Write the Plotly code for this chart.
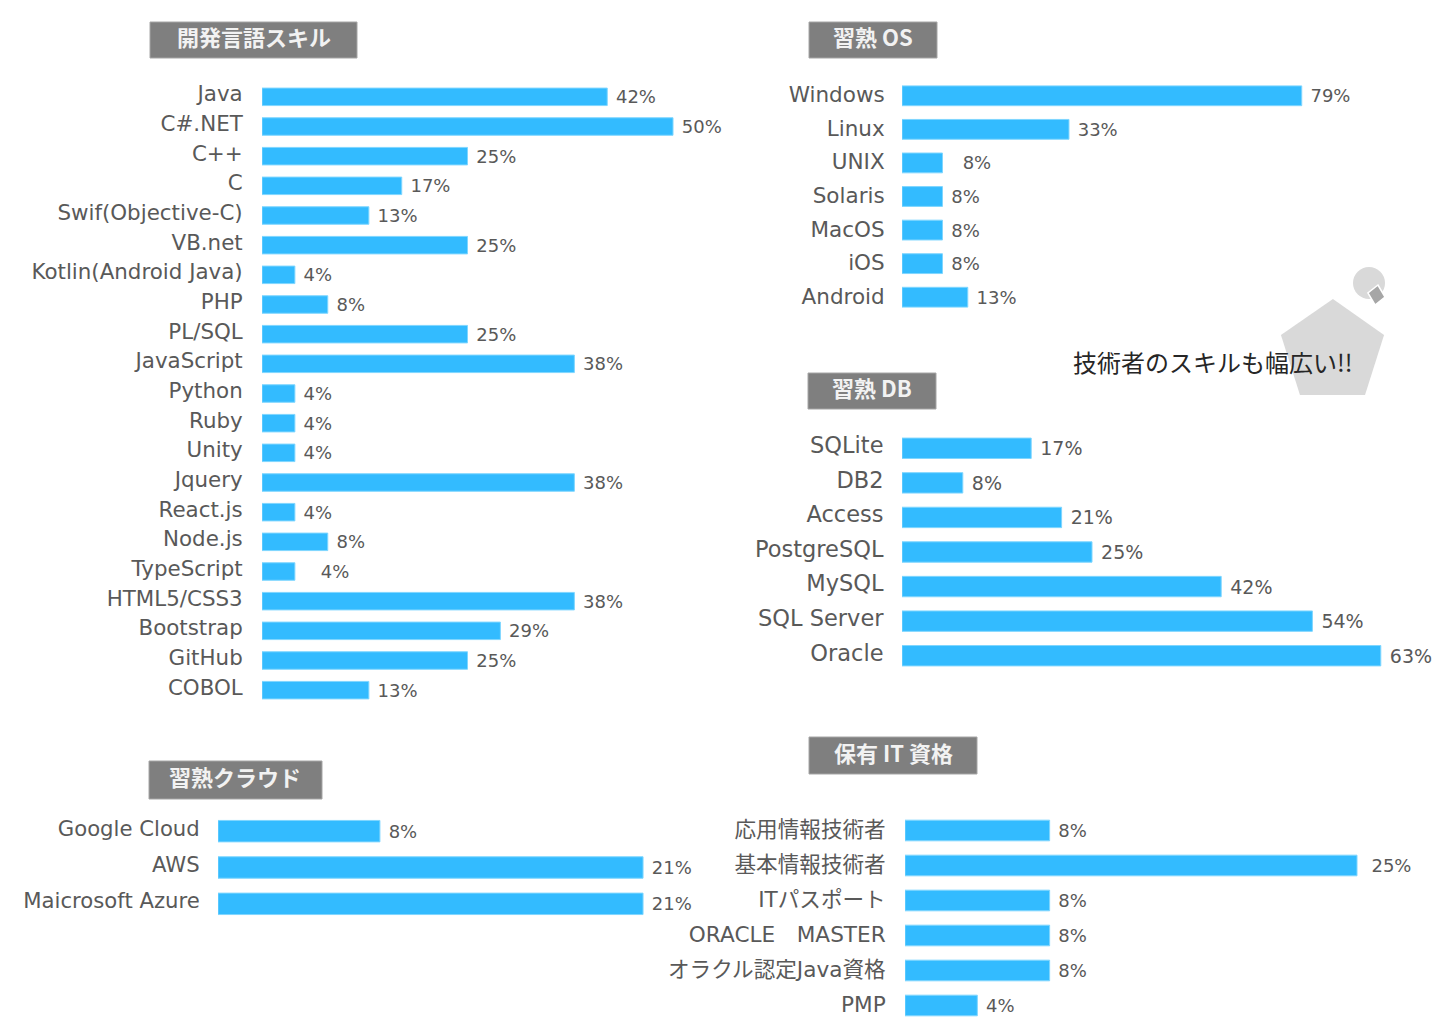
import plotly.graph_objects as go

W, H = 1452, 1036

lang_names = ["Java", "C#.NET", "C++", "C", "Swif(Objective-C)", "VB.net", "Kotlin(Android Java)", "PHP",
              "PL/SQL", "JavaScript", "Python", "Ruby", "Unity", "Jquery", "React.js", "Node.js",
              "TypeScript", "HTML5/CSS3", "Bootstrap", "GitHub", "COBOL"]
lang_vals = [42, 50, 25, 17, 13, 25, 4, 8, 25, 38, 4, 4, 4, 38, 4, 8, 4, 38, 29, 25, 13]

os_names = ["Windows", "Linux", "UNIX", "Solaris", "MacOS", "iOS", "Android"]
os_vals = [79, 33, 8, 8, 8, 8, 13]

db_names = ["SQLite", "DB2", "Access", "PostgreSQL", "MySQL", "SQL Server", "Oracle"]
db_vals = [17, 8, 21, 25, 42, 54, 63]

cloud_names = ["Google Cloud", "AWS", "Maicrosoft Azure"]
cloud_vals = [8, 21, 21]

cert_names = ["応用情報技術者", "基本情報技術者", "ITパスポート", "ORACLE　MASTER", "オラクル認定Java資格", "PMP"]
cert_vals = [8, 25, 8, 8, 8, 4]

# labels that sit further from the bar in the original
label_gap = {"UNIX": 3, "TypeScript": 4, "基本情報技術者": 2}

FONT = "DejaVu Sans, Noto Sans CJK JP"
GREY = "#595959"
BLUE = "#33BBFF"


def fx(x):
    return x / W


def fy(y):
    return 1 - y / H


fig = go.Figure()


def panel(n, names, vals, x0, x1, y0, y1, px_per_pct, size, ticklen, shift, val_size=18):
    suffix = "" if n == 1 else str(n)
    text = []
    for name, v in zip(names, vals):
        text.append("\u00a0" * label_gap.get(name, 1) + f"{v}%")
    fig.add_trace(go.Bar(
        x=vals, y=names, orientation="h", width=0.59,
        marker=dict(color=BLUE, line=dict(color="#7FD6FF", width=1)),
        text=text, textposition="outside", cliponaxis=False, constraintext="none",
        textfont=dict(family=FONT, size=val_size, color=GREY),
        xaxis="x" + suffix, yaxis="y" + suffix, hoverinfo="skip",
    ))
    fig.update_layout({
        "xaxis" + suffix: dict(domain=[fx(x0), fx(x1)], range=[0, (x1 - x0) / px_per_pct],
                               visible=False, anchor="y" + suffix),
        "yaxis" + suffix: dict(domain=[fy(y1), fy(y0)], autorange="reversed", anchor="x" + suffix,
                               showgrid=False, showline=False, zeroline=False,
                               ticks="outside", ticklen=ticklen, tickcolor="rgba(0,0,0,0)",
                               tickfont=dict(family=FONT, size=size, color=GREY),
                               ticklabelshift=shift),
    })


panel(1, lang_names, lang_vals, 262, 700, 82, 705, 8.22, 21.4, 14, 3)
panel(2, os_names, os_vals, 902, 1380, 79, 314, 5.06, 21.5, 12, 1)
panel(3, db_names, db_vals, 902, 1420, 431, 673, 7.6, 22.5, 13, 3, val_size=19)
panel(4, cloud_names, cloud_vals, 218, 680, 813, 922, 20.24, 21.2, 13, 3)
panel(5, cert_names, cert_vals, 905, 1400, 813, 1023, 18.08, 21.6, 14, 1)

# section headers: left, right, top, bottom in pixels
headers = [
    ("開発言語スキル", 150, 357, 22, 58),
    ("習熟 OS", 809, 937, 22, 58),
    ("習熟 DB", 808, 936, 373, 409),
    ("習熟クラウド", 149, 322, 761, 799),
    ("保有 IT 資格", 809, 977, 737, 774),
]
for label, l, r, t, b in headers:
    fig.add_shape(type="rect", xref="paper", yref="paper", x0=fx(l), x1=fx(r), y0=fy(b), y1=fy(t),
                  fillcolor="#7F7F7F", line=dict(color="#A6A6A6", width=1))
    fig.add_annotation(text=f"<b>{label}</b>", xref="paper", yref="paper", x=fx((l + r) / 2), y=fy((t + b) / 2 - 4),
                       xanchor="center", yanchor="middle", showarrow=False,
                       font=dict(family="Noto Sans CJK JP", size=22, color="#F2F2F2"))


def poly(points):
    return "M " + " L ".join(f"{fx(x):.4f},{fy(y):.4f}" for x, y in points) + " Z"


# grey decoration behind the comment
fig.add_shape(type="path", xref="paper", yref="paper", layer="below", fillcolor="#D9D9D9", line_width=0,
              path=poly([(1333, 299), (1384, 335), (1365, 395), (1300, 395), (1281, 335)]))
fig.add_shape(type="circle", xref="paper", yref="paper", layer="below", fillcolor="#D9D9D9", line_width=0,
              x0=fx(1353), x1=fx(1385), y0=fy(299), y1=fy(267))
fig.add_shape(type="path", xref="paper", yref="paper", fillcolor="#A6A6A6", line=dict(color="#FFFFFF", width=1.5),
              path=poly([(1378, 285), (1385, 297), (1375, 305), (1368, 293)]))

fig.add_annotation(text="技術者のスキルも幅広い!!", xref="paper", yref="paper", x=fx(1213), y=fy(361),
                   xanchor="center", yanchor="middle", showarrow=False,
                   font=dict(family="Noto Sans CJK JP", size=24, color="#262626"))

fig.update_layout(width=W, height=H, autosize=False, margin=dict(l=0, r=0, t=0, b=0),
                  paper_bgcolor="white", plot_bgcolor="rgba(0,0,0,0)", showlegend=False)

# drop the page's default body margin so pixels line up with the window
fig.write_html("out.html", config={"displayModeBar": False},
               post_script="document.body.style.margin = '0';")
